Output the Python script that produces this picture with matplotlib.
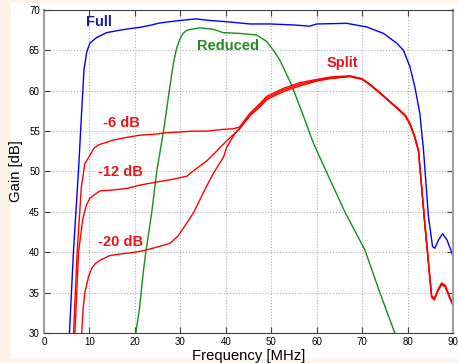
import matplotlib
matplotlib.use("Agg")
import matplotlib.pyplot as plt
from matplotlib.patches import Rectangle

plt.rcParams['font.family'] = ['Liberation Sans', 'DejaVu Sans']

# Full (blue)
full_f = [5.6, 6.5, 7.6, 8.3, 8.8, 9.4, 10.1, 11.6, 13.8, 16.7, 18.9, 21.1, 23.3, 25.5,
          29.9, 33.5, 36.5, 40.2, 45.3, 49.7, 54.9, 58.5, 60.0, 66.6, 71.0, 74.7, 77.6,
          79.1, 80.5, 81.6, 82.7, 83.5, 84.6, 85.5, 86.0, 86.8, 87.7, 88.7, 89.5, 90.0]
full_g = [30.0, 40.3, 50.2, 57.6, 62.6, 64.8, 65.9, 66.6, 67.2, 67.5, 67.7, 67.85, 68.1, 68.4,
          68.7, 68.9, 68.7, 68.55, 68.27, 68.27, 68.15, 68.0, 68.27, 68.35, 67.9, 67.1, 65.9,
          65.0, 63.0, 60.5, 57.2, 52.7, 44.4, 40.7, 40.5, 41.5, 42.3, 41.5, 40.3, 39.5]

# Reduced (green)
red_f = [20.2, 21.0, 21.9, 22.4, 23.7, 24.8, 26.3, 27.7, 28.5, 29.2, 29.9, 30.6, 31.4, 34.3, 37.3,
         39.4, 43.1, 46.8, 49.0, 50.5, 51.9, 54.5, 57.0, 59.3, 62.6, 66.2, 70.6, 73.9, 77.2]
red_g = [30.0, 33.0, 37.8, 40.0, 44.9, 50.0, 55.0, 60.5, 63.5, 65.3, 66.4, 67.1, 67.5, 67.8, 67.6,
         67.2, 67.1, 66.9, 66.1, 65.0, 63.8, 60.7, 57.0, 53.5, 49.4, 45.0, 40.3, 35.0, 30.0]

# Split, three attenuation settings (red)
tail_f = [52.7, 56.3, 60.0, 63.0, 67.3, 70.0, 72.0, 74.7, 76.5, 78.3, 79.5, 80.5, 81.5, 82.4,
          83.8, 85.3, 85.9, 86.7, 87.5, 88.3, 89.2, 90.0]

s6_f = [6.5, 7.3, 8.2, 9.0, 10.1, 11.0, 12.0, 15.3, 18.0, 21.1, 24.0, 27.0, 30.0, 32.9, 36.0,
        39.0, 41.7, 43.0, 45.3, 47.5, 49.0] + tail_f
s6_g = [30.0, 40.0, 48.0, 51.0, 52.0, 52.9, 53.3, 53.9, 54.2, 54.5, 54.6, 54.8, 54.9, 55.0, 55.0,
        55.2, 55.3, 55.5, 57.2, 58.4, 59.3,
        60.3, 61.0, 61.4, 61.7, 61.85, 61.5, 60.7, 59.4, 58.5, 57.6, 57.0, 56.0, 54.5, 52.7,
        43.6, 34.6, 34.3, 35.4, 36.2, 35.9, 34.6, 33.6]

s12_f = [6.8, 7.6, 8.5, 9.3, 10.1, 12.3, 15.0, 18.2, 21.0, 24.8, 28.0, 31.4, 32.9, 35.8, 37.6,
         40.2, 43.1, 45.3, 47.5, 49.0] + tail_f
s12_g = [30.0, 40.0, 44.0, 45.8, 46.7, 47.6, 47.7, 47.9, 48.3, 48.7, 49.0, 49.4, 50.1, 51.3, 52.3,
         53.8, 55.3, 57.0, 58.2, 59.1,
         60.1, 60.8, 61.3, 61.6, 61.8, 61.45, 60.65, 59.35, 58.45, 57.55, 56.9, 55.9, 54.4, 52.6,
         43.5, 34.5, 34.2, 35.3, 36.1, 35.8, 34.5, 33.5]

s20_f = [8.3, 8.6, 9.0, 9.8, 10.5, 11.3, 12.3, 14.5, 17.0, 20.0, 21.9, 24.0, 27.7, 29.5, 31.4,
         33.0, 34.3, 35.8, 37.3, 39.5, 40.2, 42.0, 43.9, 45.5, 47.5, 49.0] + tail_f
s20_g = [30.0, 33.0, 35.0, 37.0, 38.0, 38.6, 39.0, 39.6, 39.8, 40.0, 40.2, 40.5, 41.1, 42.0, 43.6,
         45.0, 46.5, 48.2, 49.8, 51.8, 53.0, 54.7, 55.9, 57.0, 58.0, 58.9,
         59.9, 60.6, 61.2, 61.5, 61.75, 61.4, 60.6, 59.3, 58.4, 57.5, 56.85, 55.85, 54.35, 52.5,
         43.4, 34.4, 34.1, 35.2, 36.0, 35.7, 34.4, 33.4]

fig = plt.figure(figsize=(4.58, 3.63), dpi=100, facecolor='#fdf3e7')
fig.patches.append(Rectangle((11 / 458, 4 / 363), 447 / 458, 356 / 363,
                             transform=fig.transFigure, facecolor='white',
                             edgecolor='none', zorder=-5))
ax = fig.add_axes([44 / 458, 30 / 363, 409 / 458, 323 / 363])

ax.plot(full_f, full_g, color='#0000ff', lw=1.0)
ax.plot(red_f, red_g, color='#1a8c1a', lw=1.0)
ax.plot(s6_f, s6_g, color='#ff0000', lw=1.0)
ax.plot(s12_f, s12_g, color='#ff0000', lw=1.0)
ax.plot(s20_f, s20_g, color='#ff0000', lw=1.0)

ax.set_xlim(0, 90)
ax.set_ylim(30, 70)
ax.set_xticks(range(0, 91, 10))
ax.set_yticks(range(30, 71, 5))
ax.grid(True, linestyle=':', color='#b0b0b0', lw=0.8)
ax.tick_params(direction='in', length=4, top=True, right=True, labelsize=7, pad=3,
               color='#404040')
for s in ['top', 'bottom']:
    ax.spines[s].set_color('#404040')
    ax.spines[s].set_linewidth(0.8)
for s in ['left', 'right']:
    ax.spines[s].set_color('#a0a0a0')
    ax.spines[s].set_linewidth(1.5)

ax.set_xlabel('Frequency [MHz]', fontsize=10.7, labelpad=1)
ax.set_ylabel('Gain [dB]', fontsize=10.7, labelpad=4)

kw = dict(fontsize=10.5, fontweight='bold', ha='center', va='center')
ax.text(12.1, 68.5, 'Full', color='#1a1aa6', **kw)
ax.text(40.5, 65.5, 'Reduced', color='#228b22', **kw)
ax.text(65.6, 63.4, 'Split', color='#e8151b', **kw)
ax.text(17.1, 56.0, '-6 dB', color='#e8151b', **kw)
ax.text(16.9, 49.9, '-12 dB', color='#e8151b', **kw)
ax.text(16.8, 41.3, '-20 dB', color='#e8151b', **kw)

fig.savefig('out.png', dpi=100, facecolor=fig.get_facecolor())
